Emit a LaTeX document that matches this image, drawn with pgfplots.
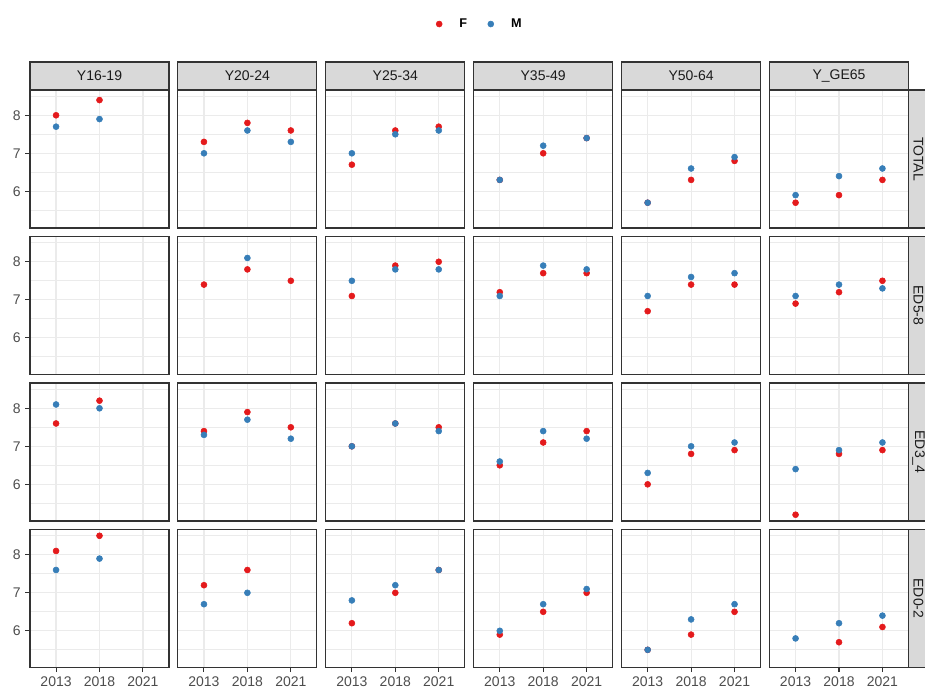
\documentclass[border=0pt]{standalone}
\usepackage{fontspec}
\setmainfont{Liberation Sans}
\usepackage{pgfplots}
\pgfplotsset{compat=1.18}

\definecolor{setred}{HTML}{E41A1C}
\definecolor{setblue}{HTML}{377EB8}
\definecolor{grid92}{HTML}{EBEBEB}
\definecolor{frame20}{HTML}{333333}
\definecolor{tick30}{HTML}{4D4D4D}
\definecolor{text10}{HTML}{1A1A1A}
\definecolor{strip85}{HTML}{D9D9D9}

% one facet panel; sizes given in pixels of the 925 x 691 layout (1px = 0.75pt)
\pgfplotsset{
  facet/.style={
    scale only axis, width={139*0.75pt}, height={138*0.75pt}, anchor=north west,
    xmin=0.4, xmax=3.6, ymin=5.035, ymax=8.665,
    xtick={1,2,3}, ytick={6,7,8}, minor ytick={5.5,6.5,7.5,8.5},
    xticklabels={}, yticklabels={},
    grid=both,
    major grid style={draw=grid92, line width=0.9pt},
    minor grid style={draw=grid92, line width=0.5pt},
    axis line style={draw=frame20, line width=0.8pt},
    major tick length=3.5pt, minor tick length=0pt,
    tick align=outside, xtick pos=bottom, ytick pos=left,
    xtick style={draw=none}, ytick style={draw=none},
    tick label style={font=\fontsize{10.5}{12}\selectfont, text=tick30},
    /pgf/number format/assume math mode=true,
  },
  cell/.style 2 args={at={({(30+#1*147.9)*0.75pt},{-(90+#2*146.5)*0.75pt})}},
  leftcol/.style={yticklabels={6,7,8}, ytick style={draw=frame20, line width=0.8pt}},
  bottomrow/.style={xticklabels={2013,2018,2021}, xtick style={draw=frame20, line width=0.8pt}},
  sexF/.style={only marks, mark=*, mark size=2.25pt, color=setred, mark options={draw=none, fill=setred}},
  sexM/.style={only marks, mark=*, mark size=2.25pt, color=setblue, mark options={draw=none, fill=setblue}},
}

\newcommand{\colstrip}[2]{% top strip with the age group
  \filldraw[fill=strip85, draw=frame20, line width=0.8pt]
    ({(30+#1*147.9)*0.75pt},{-62*0.75pt}) rectangle ({(169+#1*147.9)*0.75pt},{-90*0.75pt});
  \node[text=text10, font=\fontsize{10.5}{12}\selectfont] at ({(99.5+#1*147.9)*0.75pt},{-76*0.75pt}) {#2};
}
\newcommand{\rowstrip}[2]{% right strip with the education level
  \filldraw[fill=strip85, draw=frame20, line width=0.8pt]
    ({908.5*0.75pt},{-(90+#1*146.5)*0.75pt}) rectangle ({940*0.75pt},{-(228+#1*146.5)*0.75pt});
  \node[text=text10, font=\fontsize{10.5}{12}\selectfont, rotate=-90] at ({918.5*0.75pt},{-(159+#1*146.5)*0.75pt}) {#2};
}

\begin{document}
\begin{tikzpicture}
\useasboundingbox (0,0) rectangle ({925*0.75pt},{-691*0.75pt});

% ---------------- TOTAL ----------------
\begin{axis}[facet, cell={0}{0}, leftcol,
  legend columns=2,
  legend style={at={(3.237,1.478)}, anchor=center, draw=none, fill=none,
    font=\bfseries\fontsize{9.5}{11}\selectfont,
    /tikz/every odd column/.append style={column sep=0pt},
    /tikz/every even column/.append style={column sep=13pt}},
  legend image code/.code={%
    \draw[mark repeat=2,mark phase=2,#1] plot coordinates {(-1pt,0pt) (0pt,0pt) (1pt,0pt)};
    \path (-2.5pt,0pt) (13pt,0pt);}]
\addplot[sexF] coordinates {(1,8.0) (2,8.4)};
\addlegendentry{F}
\addplot[sexM] coordinates {(1,7.7) (2,7.9)};
\addlegendentry{M}
\end{axis}
\begin{axis}[facet, cell={1}{0}]
\addplot[sexF] coordinates {(1,7.3) (2,7.8) (3,7.6)};
\addplot[sexM] coordinates {(1,7.0) (2,7.6) (3,7.3)};
\end{axis}
\begin{axis}[facet, cell={2}{0}]
\addplot[sexF] coordinates {(1,6.7) (2,7.6) (3,7.7)};
\addplot[sexM] coordinates {(1,7.0) (2,7.5) (3,7.6)};
\end{axis}
\begin{axis}[facet, cell={3}{0}]
\addplot[sexF] coordinates {(1,6.3) (2,7.0) (3,7.4)};
\addplot[sexM] coordinates {(1,6.3) (2,7.2) (3,7.4)};
\end{axis}
\begin{axis}[facet, cell={4}{0}]
\addplot[sexF] coordinates {(1,5.7) (2,6.3) (3,6.8)};
\addplot[sexM] coordinates {(1,5.7) (2,6.6) (3,6.9)};
\end{axis}
\begin{axis}[facet, cell={5}{0}]
\addplot[sexF] coordinates {(1,5.7) (2,5.9) (3,6.3)};
\addplot[sexM] coordinates {(1,5.9) (2,6.4) (3,6.6)};
\end{axis}

% ---------------- ED5-8 ----------------
\begin{axis}[facet, cell={0}{1}, leftcol]
\end{axis}
\begin{axis}[facet, cell={1}{1}]
\addplot[sexF] coordinates {(1,7.4) (2,7.8) (3,7.5)};
\addplot[sexM] coordinates {(2,8.1)};
\end{axis}
\begin{axis}[facet, cell={2}{1}]
\addplot[sexF] coordinates {(1,7.1) (2,7.9) (3,8.0)};
\addplot[sexM] coordinates {(1,7.5) (2,7.8) (3,7.8)};
\end{axis}
\begin{axis}[facet, cell={3}{1}]
\addplot[sexF] coordinates {(1,7.2) (2,7.7) (3,7.7)};
\addplot[sexM] coordinates {(1,7.1) (2,7.9) (3,7.8)};
\end{axis}
\begin{axis}[facet, cell={4}{1}]
\addplot[sexF] coordinates {(1,6.7) (2,7.4) (3,7.4)};
\addplot[sexM] coordinates {(1,7.1) (2,7.6) (3,7.7)};
\end{axis}
\begin{axis}[facet, cell={5}{1}]
\addplot[sexF] coordinates {(1,6.9) (2,7.2) (3,7.5)};
\addplot[sexM] coordinates {(1,7.1) (2,7.4) (3,7.3)};
\end{axis}

% ---------------- ED3_4 ----------------
\begin{axis}[facet, cell={0}{2}, leftcol]
\addplot[sexF] coordinates {(1,7.6) (2,8.2)};
\addplot[sexM] coordinates {(1,8.1) (2,8.0)};
\end{axis}
\begin{axis}[facet, cell={1}{2}]
\addplot[sexF] coordinates {(1,7.4) (2,7.9) (3,7.5)};
\addplot[sexM] coordinates {(1,7.3) (2,7.7) (3,7.2)};
\end{axis}
\begin{axis}[facet, cell={2}{2}]
\addplot[sexF] coordinates {(1,7.0) (2,7.6) (3,7.5)};
\addplot[sexM] coordinates {(1,7.0) (2,7.6) (3,7.4)};
\end{axis}
\begin{axis}[facet, cell={3}{2}]
\addplot[sexF] coordinates {(1,6.5) (2,7.1) (3,7.4)};
\addplot[sexM] coordinates {(1,6.6) (2,7.4) (3,7.2)};
\end{axis}
\begin{axis}[facet, cell={4}{2}]
\addplot[sexF] coordinates {(1,6.0) (2,6.8) (3,6.9)};
\addplot[sexM] coordinates {(1,6.3) (2,7.0) (3,7.1)};
\end{axis}
\begin{axis}[facet, cell={5}{2}]
\addplot[sexF] coordinates {(1,5.2) (2,6.8) (3,6.9)};
\addplot[sexM] coordinates {(1,6.4) (2,6.9) (3,7.1)};
\end{axis}

% ---------------- ED0-2 ----------------
\begin{axis}[facet, cell={0}{3}, leftcol, bottomrow]
\addplot[sexF] coordinates {(1,8.1) (2,8.5)};
\addplot[sexM] coordinates {(1,7.6) (2,7.9)};
\end{axis}
\begin{axis}[facet, cell={1}{3}, bottomrow]
\addplot[sexF] coordinates {(1,7.2) (2,7.6)};
\addplot[sexM] coordinates {(1,6.7) (2,7.0)};
\end{axis}
\begin{axis}[facet, cell={2}{3}, bottomrow]
\addplot[sexF] coordinates {(1,6.2) (2,7.0) (3,7.6)};
\addplot[sexM] coordinates {(1,6.8) (2,7.2) (3,7.6)};
\end{axis}
\begin{axis}[facet, cell={3}{3}, bottomrow]
\addplot[sexF] coordinates {(1,5.9) (2,6.5) (3,7.0)};
\addplot[sexM] coordinates {(1,6.0) (2,6.7) (3,7.1)};
\end{axis}
\begin{axis}[facet, cell={4}{3}, bottomrow]
\addplot[sexF] coordinates {(1,5.5) (2,5.9) (3,6.5)};
\addplot[sexM] coordinates {(1,5.5) (2,6.3) (3,6.7)};
\end{axis}
\begin{axis}[facet, cell={5}{3}, bottomrow]
\addplot[sexF] coordinates {(2,5.7) (3,6.1)};
\addplot[sexM] coordinates {(1,5.8) (2,6.2) (3,6.4)};
\end{axis}

% strips
\colstrip{0}{Y16-19}
\colstrip{1}{Y20-24}
\colstrip{2}{Y25-34}
\colstrip{3}{Y35-49}
\colstrip{4}{Y50-64}
\colstrip{5}{Y\_GE65}
\rowstrip{0}{TOTAL}
\rowstrip{1}{ED5-8}
\rowstrip{2}{ED3\_4}
\rowstrip{3}{ED0-2}
\end{tikzpicture}
\end{document}
